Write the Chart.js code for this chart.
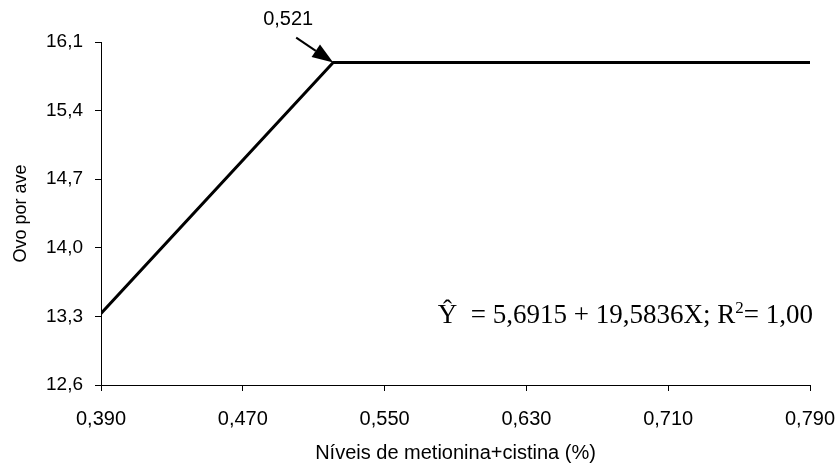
<!DOCTYPE html>
<html>
<head>
<meta charset="utf-8">
<script src="https://cdn.jsdelivr.net/npm/chart.js@4"></script>
<style>
  html, body { margin: 0; padding: 0; background: #fff; }
  #wrap { width: 839px; height: 465px; }
</style>
</head>
<body>
<div id="wrap"><canvas id="canvas"></canvas></div>
<script>
// data
const levels = [0.390, 0.521, 0.790];
const eggs = [13.33, 15.89, 15.89];

// axis ticks
const xTicks = [0.390, 0.470, 0.550, 0.630, 0.710, 0.790];
const yTicks = [12.6, 13.3, 14.0, 14.7, 15.4, 16.1];

const breakLabel = '0,521';
const eqHead = 'Ŷ  = 5,6915 + 19,5836X; R';
const eqSup = '2';
const eqTail = '= 1,00';

const comma = (v, d) => v.toFixed(d).replace('.', ',');

// arrow to the break point + equation text
const notes = {
  id: 'notes',
  afterDatasetsDraw(chart) {
    const ctx = chart.ctx;
    const x = chart.scales.x, y = chart.scales.y;
    const tx = x.getPixelForValue(levels[1]);
    const ty = y.getPixelForValue(eggs[1]);
    const sx = tx - 37, sy = ty - 25;
    const ang = Math.atan2(ty - sy, tx - sx);
    const hl = 21, hw = 7.5;
    const c = Math.cos(ang), s = Math.sin(ang);

    ctx.save();
    ctx.strokeStyle = '#000';
    ctx.fillStyle = '#000';
    ctx.lineWidth = 2;
    ctx.beginPath();
    ctx.moveTo(sx, sy);
    ctx.lineTo(tx - c * hl, ty - s * hl);
    ctx.stroke();
    ctx.beginPath();
    ctx.moveTo(tx, ty);
    ctx.lineTo(tx - c * hl - s * hw, ty - s * hl + c * hw);
    ctx.lineTo(tx - c * hl + s * hw, ty - s * hl - c * hw);
    ctx.closePath();
    ctx.fill();

    ctx.font = '20px "Liberation Sans", Arial, sans-serif';
    ctx.textAlign = 'center';
    ctx.textBaseline = 'middle';
    ctx.fillText(breakLabel, tx - 45, ty - 43);

    // equation, right aligned to the plot edge
    const big = '27px "Liberation Serif", "Times New Roman", serif';
    const small = '17px "Liberation Serif", "Times New Roman", serif';
    ctx.textAlign = 'left';
    ctx.textBaseline = 'alphabetic';
    ctx.font = big;
    const wHead = ctx.measureText(eqHead).width;
    const wTail = ctx.measureText(eqTail).width;
    ctx.font = small;
    const wSup = ctx.measureText(eqSup).width;
    const base = y.getPixelForValue(13.23);
    let px = chart.chartArea.right + 3 - (wHead + wSup + wTail);
    ctx.font = big;
    ctx.fillText(eqHead, px, base);
    px += wHead;
    ctx.font = small;
    ctx.fillText(eqSup, px, base - 10);
    px += wSup;
    ctx.font = big;
    ctx.fillText(eqTail, px, base);
    ctx.restore();
  }
};

const ctx = document.getElementById('canvas').getContext('2d');
new Chart(ctx, {
  type: 'line',
  data: {
    datasets: [{
      data: levels.map((v, i) => ({ x: v, y: eggs[i] })),
      borderColor: '#000',
      borderWidth: 3,
      pointRadius: 0,
      tension: 0,
      fill: false
    }]
  },
  options: {
    responsive: true,
    maintainAspectRatio: false,
    animation: false,
    layout: { padding: { top: 42, right: 29, left: 0, bottom: 0 } },
    plugins: { legend: { display: false }, tooltip: { enabled: false } },
    scales: {
      x: {
        type: 'linear',
        min: 0.39,
        max: 0.79,
        afterBuildTicks: s => { s.ticks = xTicks.map(v => ({ value: v })); },
        afterFit: s => { s.height = 80; s.paddingLeft = 0; s.paddingRight = 0; },
        border: { color: '#000', width: 1 },
        grid: { drawOnChartArea: false, tickLength: 6, color: '#000' },
        ticks: {
          padding: 16,
          color: '#000',
          font: { family: '"Liberation Sans", Arial, sans-serif', size: 20 },
          maxRotation: 0,
          callback: v => comma(v, 3)
        },
        title: {
          display: true,
          text: 'Níveis de metionina+cistina (%)',
          color: '#000',
          font: { family: '"Liberation Sans", Arial, sans-serif', size: 20 },
          padding: { top: 0, bottom: 0 }
        }
      },
      y: {
        min: 12.6,
        max: 16.1,
        afterBuildTicks: s => { s.ticks = yTicks.map(v => ({ value: v })); },
        afterFit: s => { s.width = 101; s.paddingTop = 0; s.paddingBottom = 0; },
        border: { color: '#000', width: 1 },
        grid: { drawOnChartArea: false, tickLength: 6, color: '#000' },
        ticks: {
          padding: 12,
          color: '#000',
          font: { family: '"Liberation Sans", Arial, sans-serif', size: 19 },
          callback: v => comma(v, 1)
        },
        title: {
          display: true,
          text: 'Ovo por ave',
          color: '#000',
          font: { family: '"Liberation Sans", Arial, sans-serif', size: 18 },
          padding: { top: 10, bottom: 0 }
        }
      }
    }
  },
  plugins: [notes]
});
</script>
</body>
</html>
